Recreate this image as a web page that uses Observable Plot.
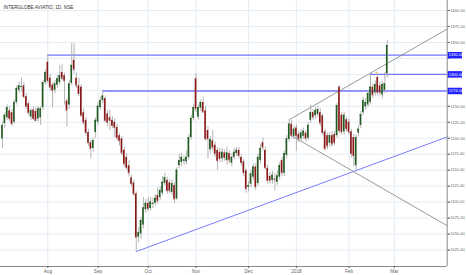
<!DOCTYPE html>
<html><head><meta charset="utf-8">
<script src="https://cdn.jsdelivr.net/npm/d3@7"></script>
<script src="https://cdn.jsdelivr.net/npm/@observablehq/plot@0.6"></script>
<style>
html,body{margin:0;padding:0;background:#fff;}
#chart{width:466px;height:275px;overflow:hidden;}
</style></head><body><div id="chart"></div>
<script>
const title = "INTERGLOBE AVIATIO, 1D, NSE";
const open = [
1199,1223,1232,1243,1240,1225,1256,1275,1280,1282,
1265,1254,1233,1244,1242,1230,1232,1248,1287,1319,
1294,1283,1275,1283,1287,1303,1298,1258,1252,1286,
1322,1294,1282,1280,1240,1228,1209,1193,1184,1209,
1225,1248,1259,1262,1238,1232,1228,1225,1217,1204,
1199,1181,1170,1157,1138,1130,1113,1045,1050,1064,
1088,1098,1090,1097,1098,1110,1107,1114,1129,1134,
1130,1115,1126,1105,1157,1162,1164,1163,1170,1201,
1231,1293,1233,1247,1256,1243,1212,1182,1196,1189,
1181,1178,1168,1177,1165,1176,1161,1170,1176,1181,
1170,1163,1149,1123,1128,1139,1155,1129,1165,1193,
1181,1153,1140,1134,1136,1131,1139,1165,1145,1173,
1198,1222,1203,1216,1206,1199,1203,1208,1200,1228,
1240,1235,1237,1240,1235,1210,1204,1192,1204,1206,
1204,1280,1236,1210,1229,1225,1210,1201,1157,1208,
1220,1240,1249,1252,1256,1280,1271,1295,1282,1268,
1275,1301];
const high = [
1225,1240,1252,1250,1245,1260,1282,1288,1294,1287,
1270,1258,1246,1249,1248,1250,1249,1290,1307,1331,
1300,1287,1290,1298,1314,1316,1302,1262,1290,1348,
1348,1302,1294,1284,1246,1232,1214,1197,1200,1232,
1255,1264,1275,1266,1243,1244,1234,1230,1222,1208,
1203,1186,1176,1165,1142,1134,1116,1060,1076,1107,
1104,1107,1107,1106,1112,1122,1124,1140,1145,1139,
1135,1134,1130,1154,1175,1176,1172,1180,1206,1236,
1253,1301,1252,1260,1264,1250,1218,1203,1212,1194,
1185,1184,1184,1182,1186,1180,1176,1184,1186,1185,
1174,1166,1152,1132,1150,1160,1160,1175,1190,1200,
1186,1158,1146,1148,1145,1148,1162,1170,1180,1204,
1229,1228,1219,1221,1211,1213,1216,1212,1224,1252,
1245,1248,1250,1246,1238,1214,1208,1209,1210,1211,
1255,1283,1240,1240,1233,1230,1214,1206,1205,1220,
1242,1264,1262,1275,1298,1285,1290,1300,1288,1289,
1303,1353];
const low = [
1184,1215,1228,1226,1218,1222,1252,1270,1272,1262,
1246,1235,1228,1227,1225,1226,1220,1243,1283,1285,
1274,1248,1270,1278,1283,1290,1252,1217,1245,1282,
1300,1278,1265,1232,1220,1203,1187,1168,1178,1200,
1220,1244,1254,1224,1218,1212,1215,1201,1196,1188,
1172,1155,1150,1139,1124,1108,1022,1036,1042,1058,
1082,1085,1086,1090,1094,1097,1102,1110,1125,1112,
1113,1110,1098,1102,1152,1156,1158,1158,1166,1197,
1227,1240,1228,1242,1244,1196,1168,1176,1180,1170,
1150,1162,1162,1164,1158,1160,1155,1166,1172,1168,
1156,1140,1114,1116,1122,1134,1118,1125,1160,1180,
1150,1128,1128,1128,1118,1126,1135,1140,1140,1168,
1194,1200,1198,1180,1193,1194,1198,1194,1196,1223,
1228,1230,1232,1218,1204,1180,1182,1186,1186,1188,
1200,1207,1205,1205,1210,1205,1170,1155,1150,1203,
1215,1236,1244,1248,1252,1262,1266,1266,1266,1262,
1270,1294];
const close = [
1220,1236,1248,1231,1223,1256,1278,1282,1281,1265,
1250,1240,1243,1231,1228,1246,1246,1287,1303,1290,
1280,1275,1285,1293,1298,1294,1290,1244,1285,1314,
1308,1283,1270,1236,1225,1209,1193,1184,1196,1228,
1250,1259,1266,1228,1225,1228,1220,1217,1201,1196,
1177,1160,1154,1146,1129,1113,1045,1052,1071,1091,
1098,1090,1100,1098,1106,1102,1118,1131,1138,1118,
1118,1129,1105,1150,1165,1170,1166,1170,1201,1231,
1248,1246,1248,1256,1241,1199,1199,1198,1186,1176,
1165,1168,1178,1170,1177,1166,1170,1178,1181,1173,
1162,1146,1121,1126,1144,1155,1124,1170,1184,1186,
1154,1134,1134,1142,1135,1141,1157,1146,1176,1199,
1222,1205,1214,1204,1199,1208,1211,1200,1220,1240,
1233,1243,1245,1224,1209,1184,1188,1204,1191,1193,
1251,1212,1210,1236,1215,1210,1176,1173,1201,1214,
1237,1259,1256,1270,1280,1268,1284,1272,1272,1284,
1285,1345];

// month tick positions, in trading-day index
const monthTickIndex = [19, 40, 61, 81, 103, 123, 145, 164];
const monthLabels = ["Aug", "Sep", "Oct", "Nov", "Dec", "2018", "Feb", "Mar"];
const priceTicks = [1025,1050,1075,1100,1125,1150,1175,1200,1225,1250,1275,1300,1325,1350,1375,1400];
// price labels hidden behind the level tags in the reference
const hiddenPriceLabels = [1275, 1300, 1325];

// horizontal levels
const levelValues = [1330, 1300, 1274];
const levelStartIndex = [19, 154, 42];

// trend lines (index, price)
const supportStart = [56, 1022.6];
const supportEnd = [186.1, 1202];
const channelUpperStart = [120, 1229];
const channelUpperEnd = [186.1, 1371];
const channelLowerStart = [120, 1206];
const channelLowerEnd = [186.1, 1063];

// small marker above the late-February candles
const markerIndex = [156.5];
const markerPrice = [1303];

const xDomain = [-0.8, 186.1];
const yDomain = [999.2, 1415.66];

const candles = open.map((o, i) => ({i, open: o, high: high[i], low: low[i], close: close[i]}));
const ups = candles.filter(d => d.close >= d.open);
const downs = candles.filter(d => d.close < d.open);
const levels = levelValues.map((v, k) => ({value: v, start: levelStartIndex[k]}));
const labelTicks = priceTicks.filter(t => !hiddenPriceLabels.includes(t));
const markers = markerIndex.map((x, k) => ({x, y: markerPrice[k]}));
const xMax = xDomain[1];

const GREEN = "#1f5a1f", RED = "#8c1515", WICK = "#a6a6a6";
const halfW = 0.33;

const chart = Plot.plot({
  width: 466, height: 275,
  marginLeft: 0, marginRight: 19.3, marginTop: 0, marginBottom: 9,
  style: {fontFamily: "'Liberation Sans', Arial, sans-serif", background: "#fff"},
  x: {domain: xDomain, axis: null},
  y: {domain: yDomain, axis: null},
  marks: [
    Plot.gridX(monthTickIndex, {stroke: "#e4ecf4", strokeOpacity: 1}),
    Plot.gridY(priceTicks, {stroke: "#e4ecf4", strokeOpacity: 1}),
    Plot.ruleY(levels, {y: "value", x1: "start", x2: () => xMax, stroke: "#7474ff", strokeWidth: 1.3}),
    Plot.link([supportStart], {x1: d => d[0], y1: d => d[1], x2: () => supportEnd[0], y2: () => supportEnd[1], stroke: "#7b7bff", strokeWidth: 1}),
    Plot.link([channelUpperStart], {x1: d => d[0], y1: d => d[1], x2: () => channelUpperEnd[0], y2: () => channelUpperEnd[1], stroke: "#808080", strokeWidth: 0.8}),
    Plot.link([channelLowerStart], {x1: d => d[0], y1: d => d[1], x2: () => channelLowerEnd[0], y2: () => channelLowerEnd[1], stroke: "#808080", strokeWidth: 0.8}),
    Plot.ruleX(candles, {x: "i", y1: "low", y2: "high", stroke: WICK, strokeWidth: 0.85}),
    Plot.rect(ups, {x1: d => d.i - halfW, x2: d => d.i + halfW, y1: "open", y2: "close", fill: GREEN}),
    Plot.rect(downs, {x1: d => d.i - halfW, x2: d => d.i + halfW, y1: "open", y2: "close", fill: RED}),
    Plot.ruleY(ups, {y: "close", x1: d => d.i - halfW, x2: d => d.i + halfW, stroke: GREEN, strokeWidth: 0.8}),
    Plot.ruleY(downs, {y: "close", x1: d => d.i - halfW, x2: d => d.i + halfW, stroke: RED, strokeWidth: 0.8}),
    Plot.dot(markers, {x: "x", y: "y", r: 1, fill: "#f2c230", stroke: null}),
    Plot.ruleX([xMax], {stroke: "#8a8a8a", strokeWidth: 1}),
    Plot.ruleY([yDomain[0]], {stroke: "#8a8a8a", strokeWidth: 1}),
    Plot.axisY(priceTicks, {anchor: "right", tickSize: 2, tickFormat: () => "", color: "#8a8a8a"}),
    Plot.axisY(labelTicks, {anchor: "right", tickSize: 2, tickPadding: 1, tickFormat: d3.format(".2f"), fontSize: 4, color: "#666"}),
    Plot.axisX(monthTickIndex, {anchor: "bottom", tickSize: 2, tickPadding: 1, tickFormat: d => monthLabels[monthTickIndex.indexOf(d)], fontSize: 4.7, color: "#666"}),
    Plot.ruleY(levels, {y: "value", x1: () => xMax + 0.42, x2: () => xMax + 6.4, stroke: "#2222ff", strokeWidth: 6.5}),
    Plot.text(levels, {y: "value", x: () => xMax + 0.7, text: d => d3.format(".2f")(d.value), textAnchor: "start", fill: "white", fontSize: 4}),
    Plot.text([title], {frameAnchor: "top-left", dx: 3, dy: 5, fontSize: 4.7, fill: "#333", textAnchor: "start"})
  ]
});
document.getElementById("chart").appendChild(chart);
</script></body></html>
